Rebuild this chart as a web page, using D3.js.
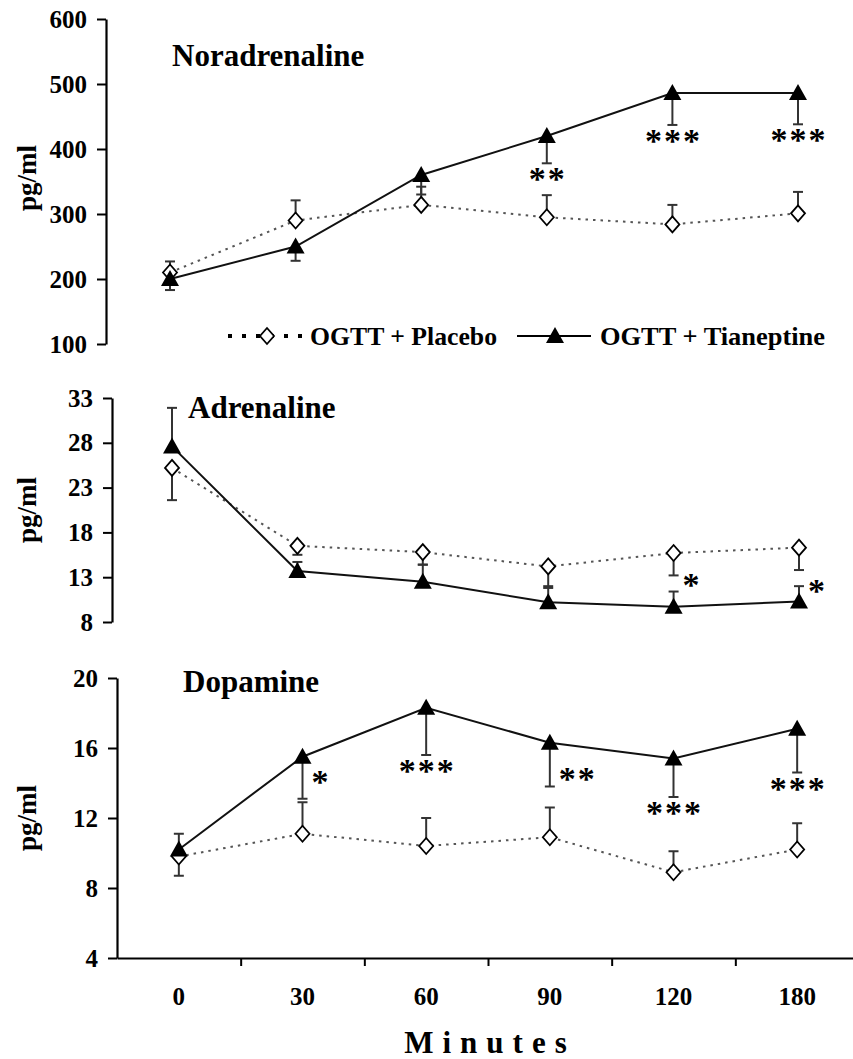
<!DOCTYPE html>
<html>
<head>
<meta charset="utf-8">
<script src="https://cdn.jsdelivr.net/npm/d3@7"></script>
<style>
  html, body { margin: 0; padding: 0; background: #fff; }
  svg { display: block; }
  text { font-family: "Liberation Serif", "Times New Roman", serif; font-weight: bold; fill: #000; }
</style>
</head>
<body>
<svg id="chart" width="853" height="1059"></svg>
<script>
// ---------------- DATA ----------------
const minutes = ["0", "30", "60", "90", "120", "180"];
const seriesNames = ["OGTT + Placebo", "OGTT + Tianeptine"];

const naTicks = [100, 200, 300, 400, 500, 600];
const naPlacebo    = [210, 290, 314, 295, 284, 301];
const naPlaceboErr = [17, 31, 28, 34, 30, 33];
const naTian       = [200, 250, 360, 420, 486, 486];
const naTianErr    = [17, 22, 30, 42, 49, 48];
const naStars      = ["", "", "", "**", "***", "***"];

const adTicks = [8, 13, 18, 23, 28, 33];
const adPlacebo    = [25.2, 16.5, 15.8, 14.2, 15.7, 16.3];
const adPlaceboErr = [3.6, 1.0, 1.4, 2.2, 2.5, 2.5];
const adTian       = [27.6, 13.7, 12.5, 10.2, 9.7, 10.3];
const adTianErr    = [4.3, 1.0, 1.9, 1.6, 1.7, 1.7];
const adStars      = ["", "", "", "", "*", "*"];

const dpTicks = [4, 8, 12, 16, 20];
const dpPlacebo    = [9.8, 11.1, 10.4, 10.9, 8.9, 10.2];
const dpPlaceboErr = [1.3, 1.8, 1.6, 1.7, 1.2, 1.5];
const dpTian       = [10.2, 15.5, 18.3, 16.3, 15.4, 17.1];
const dpTianErr    = [1.5, 2.4, 2.7, 2.5, 2.2, 2.5];
const dpStars      = ["", "*", "***", "**", "***", "***"];

// ---------------- LAYOUT ----------------
const svg = d3.select("#chart");
const FONT_TICK = 25;
const STAR_FS = 34, STAR_LS = 2;

const panels = [
  { title: "Noradrenaline", titleX: 172, titleY: 66, axisX: 106, yRange: [344, 19], xRange: [170, 798],
    ticks: naTicks, placebo: naPlacebo, pErr: naPlaceboErr, tian: naTian, tErr: naTianErr, stars: naStars,
    pDir: -1, tDir: 1, starPlace: ["", "", "", "below", "below", "below"], starDy: [0,0,0,0,0,0], labelY: 178 },
  { title: "Adrenaline", titleX: 188, titleY: 418, axisX: 112, yRange: [622, 398], xRange: [172, 799],
    ticks: adTicks, placebo: adPlacebo, pErr: adPlaceboErr, tian: adTian, tErr: adTianErr, stars: adStars,
    pDir: 1, tDir: -1, starPlace: ["", "", "", "", "right", "right"], starDy: [0,0,0,0,-10,1], labelY: 510 },
  { title: "Dopamine", titleX: 183, titleY: 692, axisX: 117, yRange: [958, 678], band: [117, 859],
    ticks: dpTicks, placebo: dpPlacebo, pErr: dpPlaceboErr, tian: dpTian, tErr: dpTianErr, stars: dpStars,
    pDir: -1, tDir: 1, starPlace: ["", "right", "below", "right", "below", "below"], starDy: [0,-20,0,-11,0,0], labelY: 818 }
];

function trianglePath(cx, cy) {
  return `M${cx},${cy - 9}L${cx + 9},${cy + 7}L${cx - 9},${cy + 7}Z`;
}
function diamondPath(cx, cy) {
  return `M${cx},${cy - 8}L${cx + 7},${cy}L${cx},${cy + 8}L${cx - 7},${cy}Z`;
}

panels.forEach((p, pi) => {
  const g = svg.append("g");
  const y = d3.scaleLinear().domain(d3.extent(p.ticks)).range(p.yRange);
  let x;
  if (p.band) {
    const xb = d3.scaleBand().domain(minutes).range(p.band).padding(0);
    x = d => xb(d) + xb.bandwidth() / 2;
    const xl = d3.scaleLinear().domain([0, minutes.length]).range(p.band);
    const ax = g.append("g").attr("transform", `translate(0,${p.yRange[0]})`)
      .call(d3.axisBottom(xl).tickValues(d3.range(1, minutes.length + 1)).tickSize(8).tickSizeOuter(0).tickFormat(""));
    ax.select(".domain").attr("stroke", "#000").attr("stroke-width", 2.2);
    ax.selectAll(".tick line").attr("stroke", "#000").attr("stroke-width", 2);
    const lab = g.append("g").attr("transform", `translate(0,${p.yRange[0]})`)
      .call(d3.axisBottom(xb).tickSize(0).tickPadding(0));
    lab.select(".domain").remove();
    lab.selectAll("text").attr("y", 47).attr("dy", 0).style("font-size", FONT_TICK + "px");
  } else {
    const xp = d3.scalePoint().domain(minutes).range(p.xRange);
    x = d => xp(d);
  }

  // y axis
  const ay = g.append("g").attr("transform", `translate(${p.axisX},0)`)
    .call(d3.axisLeft(y).tickValues(p.ticks).tickSize(9).tickSizeOuter(0).tickPadding(10));
  ay.select(".domain").attr("stroke", "#000").attr("stroke-width", 2.2);
  ay.selectAll(".tick line").attr("stroke", "#000").attr("stroke-width", 2);
  ay.selectAll("text").style("font-size", FONT_TICK + "px");

  // y label
  g.append("text")
    .attr("transform", `translate(36,${p.labelY}) rotate(-90)`)
    .attr("text-anchor", "middle")
    .style("font-size", "27px")
    .text("pg/ml");

  // title
  g.append("text").attr("x", p.titleX).attr("y", p.titleY)
    .style("font-size", "31px").text(p.title);

  const pts = minutes.map((m, i) => ({ m, i }));

  // lines
  const lineP = d3.line().x(d => x(d.m)).y(d => y(p.placebo[d.i]));
  const lineT = d3.line().x(d => x(d.m)).y(d => y(p.tian[d.i]));
  g.append("path").attr("d", lineP(pts)).attr("fill", "none")
    .attr("stroke", "#555").attr("stroke-width", 2).attr("stroke-dasharray", "2.5,5");
  g.append("path").attr("d", lineT(pts)).attr("fill", "none")
    .attr("stroke", "#111").attr("stroke-width", 2);

  // error bars
  function errBars(vals, errs, dir, color) {
    const eb = g.append("g").attr("stroke", color).attr("stroke-width", 2);
    pts.forEach(d => {
      const v = vals[d.i], e = errs[d.i];
      const y0 = y(v), y1 = y(v - dir * e);
      const cx = x(d.m);
      eb.append("line").attr("x1", cx).attr("x2", cx).attr("y1", y0).attr("y2", y1);
      eb.append("line").attr("x1", cx - 5).attr("x2", cx + 5).attr("y1", y1).attr("y2", y1);
    });
  }
  errBars(p.placebo, p.pErr, p.pDir, "#333");
  errBars(p.tian, p.tErr, p.tDir, "#333");

  // markers
  g.selectAll(".dia").data(pts).join("path")
    .attr("d", d => diamondPath(x(d.m), y(p.placebo[d.i])))
    .attr("fill", "#fff").attr("stroke", "#000").attr("stroke-width", 1.8);
  g.selectAll(".tri").data(pts).join("path")
    .attr("d", d => trianglePath(x(d.m), y(p.tian[d.i])))
    .attr("fill", "#000");

  // significance stars
  pts.forEach(d => {
    const s = p.stars[d.i];
    if (!s) return;
    const v = p.tian[d.i], e = p.tErr[d.i];
    const yEnd = y(v - p.tDir * e);
    const cx = x(d.m);
    const place = p.starPlace[d.i];
    const base = 0.43 * STAR_FS;
    if (place === "below") {
      g.append("text").attr("x", cx + STAR_LS / 2).attr("y", yEnd + 12.5 + base + p.starDy[d.i])
        .attr("text-anchor", "middle").style("font-size", STAR_FS + "px")
        .style("letter-spacing", STAR_LS + "px").text(s);
    } else {
      g.append("text").attr("x", cx + 9).attr("y", yEnd + base + p.starDy[d.i])
        .attr("text-anchor", "start").style("font-size", STAR_FS + "px")
        .style("letter-spacing", STAR_LS + "px").text(s);
    }
  });

  // legend in first panel
  if (pi === 0) {
    const lg = g.append("g");
    const ly = 336;
    lg.append("line").attr("x1", 228).attr("x2", 302).attr("y1", ly).attr("y2", ly)
      .attr("stroke", "#000").attr("stroke-width", 4).attr("stroke-dasharray", "4,10");
    lg.append("path").attr("d", diamondPath(267, ly)).attr("fill", "#fff")
      .attr("stroke", "#000").attr("stroke-width", 1.8);
    lg.append("text").attr("x", 310).attr("y", ly + 9).style("font-size", "25px")
      .attr("textLength", 187).attr("lengthAdjust", "spacingAndGlyphs").text(seriesNames[0]);
    lg.append("line").attr("x1", 517).attr("x2", 591).attr("y1", ly).attr("y2", ly)
      .attr("stroke", "#000").attr("stroke-width", 2);
    lg.append("path").attr("d", trianglePath(555, ly)).attr("fill", "#000");
    lg.append("text").attr("x", 600).attr("y", ly + 9).style("font-size", "25px")
      .attr("textLength", 225).attr("lengthAdjust", "spacingAndGlyphs").text(seriesNames[1]);
  }
});

// x axis title
svg.append("text").attr("x", 490).attr("y", 1053).attr("text-anchor", "middle")
  .style("font-size", "31px").style("letter-spacing", "9px").text("Minutes");
</script>
</body>
</html>
